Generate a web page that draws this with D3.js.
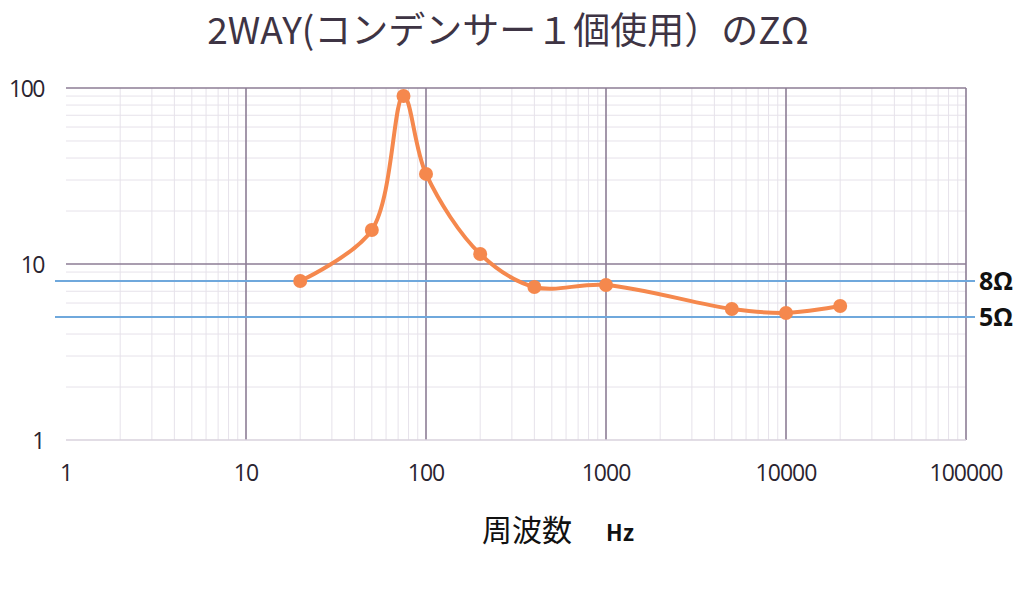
<!DOCTYPE html>
<html>
<head>
<meta charset="utf-8">
<script src="https://cdn.jsdelivr.net/npm/d3@7"></script>
<style>
	body { margin: 0; background: #fff; }
</style>
</head>
<body>
<div id="graph"></div>
<script>
const freqs = [20, 50, 75, 100, 200, 400, 1000, 5000, 10000, 20000];
const impedance = [8.0, 15.6, 90, 32.5, 11.4, 7.4, 7.6, 5.55, 5.27, 5.77];
const xTicks = [1, 10, 100, 1000, 10000, 100000];
const yTicks = [1, 10, 100];
const refLines = [8, 5];
const refLabels = ["8Ω", "5Ω"];

const width = 1024;
const height = 595;
const marginLeft = 66;
const marginRight = 58;
const marginTop = 88;
const plotBottom = 440;

const xScale = d3.scaleLog([1, 100000], [marginLeft, width - marginRight]);
const yScale = d3.scaleLog([1, 100], [plotBottom, marginTop]);

const svg = d3
	.select("#graph")
	.append("svg")
	.attr("width", width)
	.attr("height", height)
	.attr("viewBox", [0, 0, width, height]);

// minor grid
const minorX = [];
for (let d = 1; d < 100000; d *= 10) for (let k = 2; k < 10; k++) minorX.push(d * k);
const minorY = [];
for (let d = 1; d < 100; d *= 10) for (let k = 2; k < 10; k++) minorY.push(d * k);

const grid = svg.append("g");
grid
	.selectAll(".mx")
	.data(minorX)
	.join("line")
	.attr("x1", (d) => xScale(d))
	.attr("x2", (d) => xScale(d))
	.attr("y1", marginTop)
	.attr("y2", plotBottom)
	.attr("stroke", "#e6e2ea")
	.attr("stroke-width", 1);
grid
	.selectAll(".my")
	.data(minorY)
	.join("line")
	.attr("x1", marginLeft)
	.attr("x2", width - marginRight)
	.attr("y1", (d) => yScale(d))
	.attr("y2", (d) => yScale(d))
	.attr("stroke", "#e6e2ea")
	.attr("stroke-width", 1);

// major grid
grid
	.selectAll(".Mx")
	.data(xTicks.slice(1))
	.join("line")
	.attr("x1", (d) => xScale(d))
	.attr("x2", (d) => xScale(d))
	.attr("y1", marginTop)
	.attr("y2", plotBottom)
	.attr("stroke", "#8c7d95")
	.attr("stroke-width", 1.6);
grid
	.selectAll(".My")
	.data(yTicks)
	.join("line")
	.attr("x1", marginLeft)
	.attr("x2", width - marginRight)
	.attr("y1", (d) => yScale(d))
	.attr("y2", (d) => yScale(d))
	.attr("stroke", (d) => (d === 1 ? "#d8d2dc" : "#8c7d95"))
	.attr("stroke-width", 1.6);

// reference lines
svg
	.append("g")
	.selectAll("line")
	.data(refLines)
	.join("line")
	.attr("x1", 55)
	.attr("x2", 975)
	.attr("y1", (d) => yScale(d))
	.attr("y2", (d) => yScale(d))
	.attr("stroke", "#6fa8dc")
	.attr("stroke-width", 2);

svg
	.append("g")
	.attr("font-family", "'Open Sans', sans-serif")
	.attr("font-size", 25)
	.attr("font-weight", "bold")
	.attr("fill", "#111")
	.selectAll("text")
	.data(refLines)
	.join("text")
	.attr("x", 979)
	.attr("y", (d) => yScale(d) + 9)
	.text((d, i) => refLabels[i]);

// axis labels
svg
	.append("g")
	.attr("font-family", "'Open Sans', sans-serif")
	.attr("font-size", 23)
	.attr("letter-spacing", -1.5)
	.attr("fill", "#2a2430")
	.attr("text-anchor", "end")
	.selectAll("text")
	.data(yTicks)
	.join("text")
	.attr("x", 44)
	.attr("y", (d) => yScale(d) + 9)
	.text((d) => d);

svg
	.append("g")
	.attr("font-family", "'Open Sans', sans-serif")
	.attr("font-size", 23)
	.attr("letter-spacing", -1)
	.attr("fill", "#2a2430")
	.attr("text-anchor", "middle")
	.selectAll("text")
	.data(xTicks)
	.join("text")
	.attr("x", (d) => xScale(d))
	.attr("y", 481)
	.text((d) => d);

// line + points
const line = d3
	.line()
	.x((i) => xScale(freqs[i]))
	.y((i) => yScale(impedance[i]))
	.curve(d3.curveCatmullRom.alpha(0.5));

svg
	.append("path")
	.attr("d", line(d3.range(freqs.length)))
	.attr("fill", "none")
	.attr("stroke", "#f5884d")
	.attr("stroke-width", 4);

svg
	.append("g")
	.attr("fill", "#f5884d")
	.selectAll("circle")
	.data(d3.range(freqs.length))
	.join("circle")
	.attr("cx", (i) => xScale(freqs[i]))
	.attr("cy", (i) => yScale(impedance[i]))
	.attr("r", 7);

// title
svg
	.append("text")
	.attr("x", 508)
	.attr("y", 44)
	.attr("text-anchor", "middle")
	.attr("font-family", "'Noto Sans CJK JP', sans-serif")
	.attr("font-size", 37)
	.attr("fill", "#3e3444")
	.text("2WAY(コンデンサー１個使用）のZΩ");

// x axis title
const xt = svg
	.append("text")
	.attr("x", 558)
	.attr("y", 541)
	.attr("text-anchor", "middle")
	.attr("font-family", "'Noto Sans CJK JP', sans-serif")
	.attr("fill", "#111");
xt.append("tspan").attr("font-size", 30).text("周波数");
xt.append("tspan").attr("font-size", 22).attr("font-weight", "bold").attr("dx", 34).text("Hz");
</script>
</body>
</html>
